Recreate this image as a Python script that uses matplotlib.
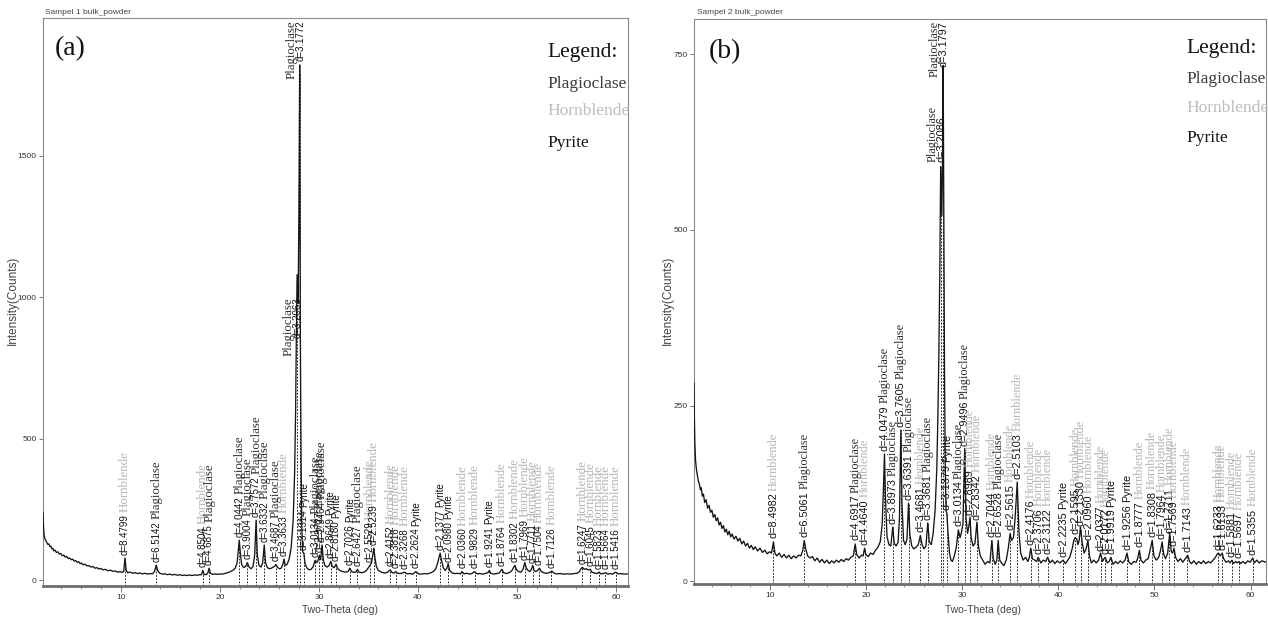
import numpy as np
import matplotlib
matplotlib.use('Agg')
import matplotlib.pyplot as plt
from matplotlib.ticker import MultipleLocator

WAVELENGTH = 1.5406  # Cu K-alpha (Angstrom), used to place the d-spacing markers

# Sample 1 bulk powder: (2-theta, counts)
trace_1 = [
    (2.15, 240), (2.18, 205), (2.22, 175), (2.28, 155), (2.35, 146), (2.45, 138), (2.55, 132),
    (2.65, 126), (2.75, 128), (2.85, 118), (2.95, 120), (3.05, 110), (3.15, 112), (3.25, 103),
    (3.35, 106), (3.5, 98), (3.65, 100), (3.8, 92), (3.95, 94), (4.1, 86), (4.25, 88), (4.4, 81),
    (4.55, 84), (4.7, 76), (4.85, 78), (5.0, 72), (5.15, 74), (5.3, 67), (5.45, 69), (5.6, 63),
    (5.75, 65), (5.9, 58), (6.05, 60), (6.2, 54), (6.4, 56), (6.6, 50), (6.8, 51), (7.0, 46),
    (7.2, 48), (7.4, 42), (7.6, 44), (7.8, 39), (8.0, 41), (8.2, 36), (8.45, 38), (8.7, 33),
    (8.95, 35), (9.2, 31), (9.45, 32), (9.7, 28), (9.95, 30), (10.15, 27), (10.3, 30), (10.42, 78),
    (10.55, 34), (10.7, 26), (10.95, 28), (11.2, 24), (11.45, 26), (11.7, 23), (11.95, 25),
    (12.2, 22), (12.45, 24), (12.7, 21), (12.95, 23), (13.2, 22), (13.4, 30), (13.58, 53),
    (13.75, 32), (13.95, 24), (14.2, 21), (14.45, 22), (14.7, 19), (14.95, 21), (15.2, 18),
    (15.45, 20), (15.7, 17), (15.95, 19), (16.2, 16), (16.45, 18), (16.7, 16), (16.95, 18),
    (17.2, 16), (17.45, 18), (17.7, 17), (17.95, 19), (18.15, 19), (18.28, 34), (18.42, 20),
    (18.6, 19), (18.78, 24), (18.92, 42), (19.05, 24), (19.3, 20), (19.55, 22), (19.8, 20),
    (20.05, 22), (20.3, 21), (20.55, 24), (20.8, 26), (21.05, 30), (21.3, 34), (21.55, 42),
    (21.75, 62), (21.88, 110), (21.96, 141), (22.06, 100), (22.2, 55), (22.4, 44), (22.6, 48),
    (22.78, 62), (22.95, 46), (23.15, 40), (23.35, 48), (23.52, 90), (23.66, 212), (23.78, 90),
    (23.95, 52), (24.15, 46), (24.32, 60), (24.48, 124), (24.62, 60), (24.8, 44), (25.0, 40),
    (25.2, 42), (25.4, 46), (25.55, 50), (25.66, 55), (25.8, 46), (26.0, 40), (26.2, 42),
    (26.35, 55), (26.48, 74), (26.6, 52), (26.8, 56), (27.0, 75), (27.2, 115), (27.4, 210),
    (27.55, 380), (27.65, 600), (27.72, 850), (27.8, 1080), (27.9, 980), (27.98, 1300),
    (28.06, 1822), (28.12, 900), (28.2, 420), (28.28, 180), (28.36, 100), (28.48, 95),
    (28.6, 58), (28.8, 42), (29.0, 36), (29.2, 38), (29.4, 46), (29.62, 70), (29.8, 62),
    (29.92, 70), (30.04, 88), (30.18, 72), (30.31, 124), (30.45, 70), (30.6, 52), (30.8, 46),
    (31.0, 50), (31.2, 66), (31.35, 48), (31.55, 44), (31.73, 56), (31.9, 40), (32.1, 34),
    (32.4, 30), (32.7, 28), (32.95, 30), (33.12, 42), (33.3, 30), (33.55, 27), (33.75, 29),
    (33.89, 38), (34.05, 28), (34.3, 26), (34.55, 28), (34.8, 34), (35.0, 44), (35.12, 50),
    (35.3, 60), (35.45, 90), (35.54, 113), (35.65, 80), (35.8, 48), (36.0, 34), (36.3, 28),
    (36.6, 25), (36.9, 27), (37.2, 36), (37.4, 26), (37.6, 25), (37.74, 30), (37.95, 24),
    (38.2, 23), (38.45, 25), (38.65, 28), (38.9, 22), (39.2, 23), (39.5, 21), (39.78, 30),
    (40.05, 22), (40.35, 21), (40.65, 23), (40.95, 22), (41.25, 25), (41.55, 30), (41.8, 40),
    (42.0, 62), (42.12, 80), (42.24, 95), (42.38, 70), (42.55, 44), (42.75, 34), (42.92, 42),
    (43.05, 58), (43.2, 34), (43.45, 25), (43.75, 23), (44.05, 24), (44.3, 22), (44.44, 30),
    (44.65, 22), (44.95, 24), (45.25, 21), (45.5, 24), (45.7, 30), (45.95, 22), (46.25, 23),
    (46.55, 21), (46.85, 24), (47.05, 26), (47.19, 34), (47.35, 24), (47.65, 21), (47.95, 23),
    (48.2, 25), (48.47, 38), (48.65, 26), (48.9, 23), (49.2, 26), (49.45, 32), (49.62, 42),
    (49.78, 52), (49.95, 36), (50.15, 30), (50.4, 28), (50.6, 38), (50.79, 62), (50.92, 44),
    (51.1, 34), (51.3, 30), (51.45, 38), (51.59, 52), (51.72, 34), (51.9, 30), (52.08, 34),
    (52.26, 42), (52.45, 30), (52.7, 26), (52.95, 24), (53.25, 26), (53.51, 32), (53.75, 24),
    (54.0, 22), (54.35, 23), (54.7, 21), (55.05, 22), (55.4, 21), (55.75, 23), (56.05, 24),
    (56.3, 30), (56.45, 40), (56.6, 45), (56.8, 38), (57.0, 40), (57.2, 36), (57.4, 38),
    (57.55, 28), (57.8, 25), (58.05, 23), (58.29, 28), (58.45, 22), (58.7, 23), (58.95, 26),
    (59.15, 21), (59.4, 23), (59.65, 21), (59.96, 28), (60.2, 22), (60.5, 23), (60.8, 21),
    (61.2, 22),
]
peaks_1_d = [8.4799, 6.5142, 4.8504, 4.6875, 4.0442, 3.9004, 3.7572, 3.6332, 3.4687, 3.3633,
             3.2063, 3.1772, 3.1314, 3.0134, 2.9727, 2.9464, 2.8649, 2.8180, 2.7026, 2.6427,
             2.5529, 2.5239, 2.4152, 2.3816, 2.3268, 2.2624, 2.1377, 2.0980, 2.0360, 1.9829,
             1.9241, 1.8764, 1.8302, 1.7969, 1.7711, 1.7504, 1.7126, 1.6247, 1.6045, 1.5823,
             1.5664, 1.5416]
peaks_1_phase = ['H', 'P', 'H', 'P', 'P', 'P', 'P', 'P', 'P', 'H',
                 'P', 'P', 'Y', 'P', 'P', 'P', 'Y', 'Y', 'Y', 'P',
                 'H', 'H', 'H', 'H', 'H', 'Y', 'Y', 'Y', 'H', 'H',
                 'Y', 'H', 'H', 'H', 'H', 'H', 'H', 'H', 'H', 'H',
                 'H', 'H']

# Sample 2 bulk powder
trace_2 = [
    (2.14, 282), (2.17, 240), (2.22, 200), (2.3, 172), (2.4, 158), (2.5, 150), (2.6, 142),
    (2.7, 138), (2.8, 130), (2.9, 133), (3.0, 121), (3.12, 124), (3.25, 112), (3.4, 116),
    (3.55, 104), (3.7, 108), (3.85, 98), (4.0, 101), (4.15, 91), (4.3, 95), (4.45, 86), (4.6, 90),
    (4.75, 80), (4.9, 84), (5.05, 75), (5.2, 79), (5.35, 70), (5.5, 74), (5.65, 66), (5.8, 71),
    (5.95, 63), (6.1, 67), (6.3, 60), (6.5, 64), (6.7, 57), (6.9, 61), (7.1, 53), (7.3, 57),
    (7.5, 50), (7.7, 54), (7.9, 47), (8.1, 51), (8.3, 45), (8.5, 49), (8.75, 43), (9.0, 47),
    (9.25, 41), (9.5, 44), (9.75, 39), (10.0, 42), (10.2, 40), (10.4, 56), (10.55, 40),
    (10.75, 36), (11.0, 40), (11.25, 34), (11.5, 38), (11.75, 33), (12.0, 37), (12.25, 32),
    (12.5, 36), (12.75, 33), (13.0, 37), (13.25, 36), (13.45, 44), (13.6, 58), (13.75, 46),
    (13.95, 36), (14.2, 33), (14.45, 35), (14.7, 29), (14.95, 33), (15.2, 27), (15.45, 31),
    (15.7, 26), (15.95, 30), (16.2, 25), (16.45, 29), (16.7, 26), (16.95, 30), (17.2, 27),
    (17.45, 31), (17.7, 28), (17.95, 32), (18.2, 30), (18.45, 34), (18.7, 36), (18.9, 53),
    (19.05, 38), (19.3, 33), (19.55, 37), (19.72, 36), (19.87, 47), (20.0, 38), (20.25, 35),
    (20.5, 40), (20.75, 38), (21.0, 44), (21.25, 48), (21.5, 56), (21.7, 80), (21.85, 140),
    (21.94, 181), (22.04, 120), (22.2, 64), (22.4, 52), (22.6, 50), (22.8, 77), (22.95, 54),
    (23.15, 50), (23.35, 55), (23.5, 90), (23.64, 215), (23.76, 110), (23.92, 58), (24.1, 52),
    (24.28, 60), (24.44, 111), (24.58, 66), (24.78, 50), (24.98, 46), (25.2, 48), (25.45, 52),
    (25.67, 65), (25.85, 52), (26.05, 46), (26.25, 50), (26.44, 83), (26.6, 56), (26.8, 52),
    (27.0, 68), (27.2, 100), (27.38, 160), (27.5, 240), (27.6, 330), (27.7, 450), (27.78, 590),
    (27.9, 520), (27.98, 600), (28.04, 734), (28.1, 560), (28.18, 300), (28.26, 160),
    (28.34, 100), (28.42, 97), (28.56, 66), (28.7, 40), (28.85, 30), (29.0, 28), (29.2, 36),
    (29.4, 48), (29.62, 73), (29.8, 62), (29.95, 70), (30.1, 82), (30.28, 189), (30.42, 90),
    (30.58, 68), (30.73, 80), (30.83, 91), (30.95, 62), (31.15, 50), (31.35, 54), (31.55, 84),
    (31.7, 50), (31.9, 36), (32.15, 30), (32.4, 24), (32.65, 28), (32.9, 26), (33.1, 58),
    (33.25, 32), (33.45, 24), (33.62, 30), (33.76, 58), (33.92, 30), (34.1, 26), (34.35, 22),
    (34.6, 30), (34.82, 48), (35.0, 68), (35.15, 58), (35.35, 62), (35.52, 90), (35.74, 141),
    (35.92, 70), (36.1, 40), (36.35, 30), (36.6, 34), (36.85, 28), (37.0, 34), (37.15, 47),
    (37.32, 32), (37.55, 30), (37.75, 28), (37.92, 34), (38.2, 26), (38.45, 30), (38.7, 28),
    (38.9, 34), (39.15, 26), (39.4, 30), (39.65, 25), (39.9, 29), (40.15, 26), (40.35, 28),
    (40.51, 30), (40.75, 25), (41.0, 30), (41.2, 34), (41.45, 46), (41.62, 58), (41.77, 62),
    (41.93, 60), (42.05, 52), (42.18, 58), (42.31, 77), (42.5, 54), (42.7, 40), (42.9, 46),
    (43.09, 58), (43.25, 36), (43.45, 26), (43.7, 30), (43.95, 26), (44.2, 30), (44.4, 40),
    (44.6, 28), (44.76, 32), (44.88, 34), (45.1, 26), (45.3, 28), (45.48, 34), (45.7, 24),
    (45.95, 28), (46.2, 25), (46.45, 29), (46.7, 26), (46.95, 30), (47.15, 40), (47.35, 27),
    (47.6, 24), (47.85, 28), (48.1, 27), (48.25, 32), (48.44, 44), (48.6, 30), (48.85, 26),
    (49.1, 30), (49.35, 32), (49.55, 44), (49.77, 58), (49.95, 36), (50.2, 30), (50.45, 34),
    (50.64, 44), (50.8, 56), (50.97, 38), (51.15, 32), (51.38, 40), (51.59, 68), (51.75, 42),
    (51.9, 40), (52.04, 47), (52.2, 34), (52.45, 28), (52.7, 32), (52.95, 27), (53.2, 32),
    (53.46, 37), (53.65, 28), (53.85, 25), (54.1, 29), (54.35, 24), (54.6, 28), (54.85, 25),
    (55.1, 29), (55.35, 25), (55.6, 28), (55.85, 26), (56.1, 30), (56.35, 34), (56.5, 38),
    (56.66, 40), (56.85, 36), (57.05, 40), (57.2, 32), (57.45, 27), (57.7, 29), (57.85, 26),
    (58.06, 30), (58.2, 25), (58.45, 28), (58.62, 26), (58.81, 28), (58.95, 25), (59.2, 28),
    (59.45, 25), (59.7, 29), (59.95, 27), (60.22, 33), (60.4, 26), (60.65, 30), (60.9, 26),
    (61.15, 29), (61.6, 27),
]
peaks_2_d = [8.4982, 6.5061, 4.6917, 4.4640, 4.0479, 3.8973, 3.7605, 3.6391, 3.4681, 3.3681,
             3.2086, 3.1797, 3.1379, 3.0134, 2.9496, 2.8989, 2.8342, 2.7044, 2.6528, 2.5615,
             2.5103, 2.4176, 2.3706, 2.3122, 2.2235, 2.1595, 2.1330, 2.0960, 2.0377, 2.0172,
             1.9919, 1.9256, 1.8777, 1.8308, 1.7964, 1.7711, 1.7569, 1.7143, 1.6233, 1.6133,
             1.5881, 1.5697, 1.5355]
peaks_2_phase = ['H', 'P', 'P', 'H', 'P', 'P', 'P', 'P', 'H', 'P',
                 'P', 'P', 'Y', 'P', 'P', 'H', 'H', 'H', 'P', 'H',
                 'H', 'H', 'H', 'H', 'Y', 'H', 'H', 'H', 'H', 'H',
                 'Y', 'Y', 'H', 'H', 'H', 'H', 'H', 'H', 'H', 'H',
                 'H', 'H', 'H']

legend_names = ['Plagioclase', 'Hornblende', 'Pyrite']

SANS = 'Liberation Sans'
SERIF = 'Liberation Serif'
PHASES = {
    'P': ('Plagioclase', '#2e2e2e', SERIF),
    'H': ('Hornblende', '#b3b3b3', SERIF),
    'Y': ('Pyrite', '#111111', SANS),
}
LEGEND_COLORS = {'Plagioclase': '#3c3c3c', 'Hornblende': '#bdbdbd', 'Pyrite': '#141414'}

W, H = 1268, 620
plt.rcParams['font.family'] = [SANS, 'DejaVu Sans']


def fx(px):
    return px / W


def fy(py):
    return 1 - py / H


def two_theta(d):
    return np.degrees(2 * np.arcsin(WAVELENGTH / (2 * np.asarray(d, dtype=float))))


def peak_label(ax, p, top, d, phase, fs_d, fs_name):
    t1 = ax.annotate(f'd={d:.4f}', xy=(p, top), xytext=(0, 2.5), textcoords='offset points',
                     rotation=90, ha='center', va='bottom', fontsize=fs_d, family=SANS,
                     color='#111111', zorder=4)
    name, color, fam = PHASES[phase]
    size = fs_d if fam == SANS else fs_name
    ax.annotate(name, xy=(0.5, 1.0), xycoords=t1, xytext=(0, 1.5), textcoords='offset points',
                rotation=90, ha='center', va='bottom', fontsize=size, family=fam,
                color=color, zorder=4)


def big_label(ax, p, y, va, d, fs_d, fs_name, ycoord='data', off=0):
    kw = dict(rotation=90, ha='center', va=va, textcoords='offset points', zorder=4,
              xycoords=('data', ycoord))
    ax.annotate(f'd={d:.4f}', xy=(p, y), xytext=(0.6, off), fontsize=fs_d, family=SANS,
                color='#111111', **kw)
    ax.annotate('Plagioclase', xy=(p, y), xytext=(-6.0, off), fontsize=fs_name, family=SERIF,
                color='#2e2e2e', **kw)


def draw_panel(ax, xlim, trace, peaks_d, peaks_phase, ylim, yticks, big, fs_d, fs_name):
    tt, ct = np.array(trace, dtype=float).T
    ax.plot(tt, ct, color='#151515', lw=0.95, zorder=3)
    ax.set_xlim(*xlim)
    ax.set_ylim(*ylim)

    pos = two_theta(peaks_d)
    tops = np.interp(pos, tt, ct)
    ax.vlines(pos, ylim[0], tops, colors='#1a1a1a', linestyles=(0, (2.0, 1.6)),
              lw=0.65, zorder=2)
    for p, top, d, ph in zip(pos, tops, peaks_d, peaks_phase):
        if d in big:
            y, va, yc, off = big[d]
            if y is None:
                y = top
            big_label(ax, p, y, va, d, fs_d, fs_name, ycoord=yc, off=off)
        else:
            peak_label(ax, p, top, d, ph, fs_d, fs_name)

    for s in ax.spines.values():
        s.set_color('#8a8a8a')
        s.set_linewidth(0.8)
    ax.spines['bottom'].set_color('#6e6e6e')
    ax.spines['bottom'].set_linewidth(2.0)
    ax.xaxis.set_major_locator(MultipleLocator(10))
    ax.xaxis.set_minor_locator(MultipleLocator(2))
    ax.set_yticks(yticks)
    ax.tick_params(axis='both', which='major', direction='out', length=3, width=0.7,
                   color='#777777', labelsize=6, labelcolor='#333333', pad=1.5)
    ax.tick_params(axis='x', which='major', length=4.5)
    ax.tick_params(axis='x', which='minor', direction='out', length=2.5, width=0.6,
                   color='#777777')


fig = plt.figure(figsize=(W / 100, H / 100), dpi=100)
ax1 = fig.add_axes([fx(43), fy(586), fx(628) - fx(43), fy(18) - fy(586)])
ax2 = fig.add_axes([fx(694), fy(584), fx(1266) - fx(694), fy(19) - fy(584)])

big_1 = {3.2063: (1000, 'top', 'data', 0), 3.1772: (1.0, 'top', 'axes fraction', -1.5)}
big_2 = {3.2086: (None, 'bottom', 'data', 4), 3.1797: (1.0, 'top', 'axes fraction', -1.5)}

draw_panel(ax1, (2.15, 61.2), trace_1, peaks_1_d, peaks_1_phase, (-21, 1988),
           [0, 500, 1000, 1500], big_1, 7.0, 9.3)
draw_panel(ax2, (2.14, 61.6), trace_2, peaks_2_d, peaks_2_phase, (-4, 800),
           [0, 250, 500, 750], big_2, 7.8, 8.8)

# titles, axis labels
fig.text(fx(45), fy(12), 'Sampel 1 bulk_powder', fontsize=6, color='#444444', va='center')
fig.text(fx(697), fy(13), 'Sampel 2 bulk_powder', fontsize=6, color='#444444', va='center')
for xc, yc in [(13, 300), (668, 300)]:
    fig.text(fx(xc), fy(yc), 'Intensity(Counts)', rotation=90, fontsize=8.5, color='#444444',
             ha='center', va='center')
for xc in [340, 983]:
    fig.text(fx(xc), fy(610), 'Two-Theta (deg)', fontsize=7.5, color='#444444',
             ha='center', va='center')

# panel tags and legends
fig.text(fx(55), fy(55), '(a)', fontsize=20, family=SERIF, color='#111111', va='baseline')
fig.text(fx(709), fy(58), '(b)', fontsize=20, family=SERIF, color='#111111', va='baseline')
for x0, base in [(547, [57, 88, 115, 147]), (1186, [53, 83, 112, 142])]:
    fig.text(fx(x0), fy(base[0]), 'Legend:', fontsize=15.5, family=SERIF, color='#141414',
             va='baseline')
    for name, b in zip(legend_names, base[1:]):
        fig.text(fx(x0), fy(b), name, fontsize=12.5, family=SERIF, color=LEGEND_COLORS[name],
                 va='baseline')

fig.savefig('out.png', dpi=100)
